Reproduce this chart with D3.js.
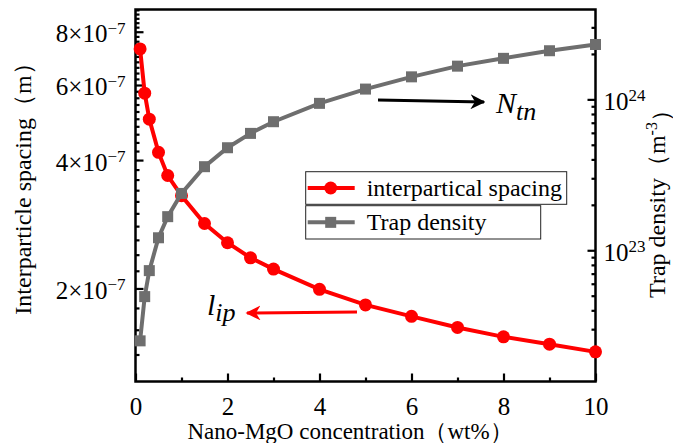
<!DOCTYPE html>
<html>
<head>
<meta charset="utf-8">
<script src="https://cdn.jsdelivr.net/npm/d3@7"></script>
<style>
  body { margin: 0; background: #fff; }
</style>
</head>
<body>
<div id="chart"></div>
<script>
// nano-MgO loading (wt%)
const conc = [0.1, 0.2, 0.3, 0.5, 0.7, 1, 1.5, 2, 2.5, 3, 4, 5, 6, 7, 8, 9, 10];
// interparticle spacing (m), left log axis
const spacing = [7.29e-7, 5.74e-7, 4.99e-7, 4.17e-7, 3.68e-7, 3.30e-7, 2.84e-7, 2.56e-7, 2.36e-7,
  2.22e-7, 1.99e-7, 1.83e-7, 1.72e-7, 1.62e-7, 1.54e-7, 1.48e-7, 1.42e-7];
// trap density (m^-3), right log axis
const trapDensity = [2.51e22, 4.93e22, 7.33e22, 1.21e23, 1.67e23, 2.38e23, 3.58e23, 4.78e23, 5.95e23,
  7.11e23, 9.41e23, 1.17e24, 1.41e24, 1.66e24, 1.87e24, 2.10e24, 2.31e24];

const xTicks = [0, 2, 4, 6, 8, 10];
const xMinor = [1, 3, 5, 7, 9];
const leftTicks = [2e-7, 4e-7, 6e-7, 8e-7];
const leftLabels = ["2", "4", "6", "8"];
const rightTicks = [1e23, 1e24];
const rightLabels = ["23", "24"];

const FONT = "Liberation Serif";

// warm up the serif face before any text is drawn
const ctx = document.createElement("canvas").getContext("2d");
[24, 25, 30].forEach(s => {
  ctx.font = `${s}px "${FONT}"`;
  ctx.measureText("Trap density 0123456789");
  ctx.font = `italic ${s}px "${FONT}"`;
  ctx.measureText("Ntn lip");
  document.fonts.check(`${s}px "${FONT}"`);
});

const width = 673, height = 443;
const m = { left: 135.5, right: 595.5, top: 9.5, bottom: 381.5 };

const svg = d3.select("#chart").append("svg").attr("width", width).attr("height", height);

const x = d3.scaleLinear().domain([0, 10]).range([m.left, m.right]);
const yL = d3.scaleLog().domain([1.21e-7, 9.02e-7]).range([m.bottom, m.top]);
const yR = d3.scaleLog().domain([1.35e22, 3.94e24]).range([m.bottom, m.top]);

// minor ticks
const leftMinor = d3.range(14, 91, 2).map(v => v * 1e-8)
  .filter(v => !leftTicks.some(t => Math.abs(t - v) < 1e-9));
const rightMinor = [];
[1e22, 1e23, 1e24].forEach(p => d3.range(2, 10).forEach(k => {
  const v = k * p;
  if (v >= 1.35e22 && v <= 3.94e24) rightMinor.push(v);
}));

function txt(sel, size) {
  return sel.append("text").attr("font-family", FONT).attr("font-size", size).attr("fill", "#000");
}

// bottom axis
const gx = svg.append("g").attr("transform", `translate(0,${m.bottom})`)
  .call(d3.axisBottom(x).tickValues(xTicks).tickSize(-8).tickFormat(""));
svg.append("g").attr("transform", `translate(0,${m.bottom})`)
  .call(d3.axisBottom(x).tickValues(xMinor).tickSize(-4).tickFormat(""));

// left axis
const gl = svg.append("g").attr("transform", `translate(${m.left},0)`)
  .call(d3.axisLeft(yL).tickValues(leftTicks).tickSize(-8).tickFormat(""));
svg.append("g").attr("transform", `translate(${m.left},0)`)
  .call(d3.axisLeft(yL).tickValues(leftMinor).tickSize(-4).tickFormat(""));

// right axis
const gr = svg.append("g").attr("transform", `translate(${m.right},0)`)
  .call(d3.axisRight(yR).tickValues(rightTicks).tickSize(-8).tickFormat(""));
svg.append("g").attr("transform", `translate(${m.right},0)`)
  .call(d3.axisRight(yR).tickValues(rightMinor).tickSize(-4).tickFormat(""));

svg.selectAll("g").attr("font-family", FONT);
svg.selectAll(".domain").remove();
svg.selectAll(".tick text").remove();
svg.selectAll(".tick line").attr("stroke", "#000").attr("stroke-width", 2.2);

gx.selectAll(".tick").each(function(d) {
  txt(d3.select(this), 25).attr("y", 33).attr("text-anchor", "middle").text(d);
});

gl.selectAll(".tick").each(function(d, i) {
  const t = txt(d3.select(this), 25).attr("x", -10).attr("dy", "0.4em").attr("text-anchor", "end");
  t.append("tspan").text(leftLabels[i] + "×10");
  t.append("tspan").attr("dy", "-0.5em").attr("font-size", 17).text("−7");
});

gr.selectAll(".tick").each(function(d, i) {
  const t = txt(d3.select(this), 25).attr("x", 8).attr("dy", "0.4em").attr("text-anchor", "start");
  t.append("tspan").text("10");
  t.append("tspan").attr("dy", "-0.5em").attr("font-size", 17).text(rightLabels[i]);
});

// frame
svg.append("rect").attr("x", m.left).attr("y", m.top)
  .attr("width", m.right - m.left).attr("height", m.bottom - m.top)
  .attr("fill", "none").attr("stroke", "#000").attr("stroke-width", 2.5);

// series
const red = "#ff0000", grey = "#6e6e6e";

svg.append("path").datum(conc.map((c, i) => [c, spacing[i]]))
  .attr("fill", "none").attr("stroke", red).attr("stroke-width", 4)
  .attr("d", d3.line().x(d => x(d[0])).y(d => yL(d[1])));
svg.append("g").selectAll("circle").data(conc.map((c, i) => [c, spacing[i]])).join("circle")
  .attr("cx", d => x(d[0])).attr("cy", d => yL(d[1])).attr("r", 6.5).attr("fill", red);

svg.append("path").datum(conc.map((c, i) => [c, trapDensity[i]]))
  .attr("fill", "none").attr("stroke", grey).attr("stroke-width", 4)
  .attr("d", d3.line().x(d => x(d[0])).y(d => yR(d[1])));
svg.append("g").selectAll("rect").data(conc.map((c, i) => [c, trapDensity[i]])).join("rect")
  .attr("x", d => x(d[0]) - 5.5).attr("y", d => yR(d[1]) - 5.5)
  .attr("width", 11).attr("height", 11).attr("fill", grey);

// axis titles
txt(svg, 23).attr("x", 350).attr("y", 439).attr("text-anchor", "middle")
  .text("Nano-MgO concentration（wt%）");
txt(svg, 24).attr("transform", "translate(31,183) rotate(-90)").attr("text-anchor", "middle")
  .text("Interparticle spacing（m）");
const rt = txt(svg, 24).attr("transform", "translate(665,198) rotate(-90)").attr("text-anchor", "middle");
rt.append("tspan").text("Trap density（m");
rt.append("tspan").attr("dy", "-0.5em").attr("font-size", 16).text("-3");
rt.append("tspan").attr("dy", "0.5em").text("）");

// legend
const legend = [
  { label: "interpartical spacing", color: red, shape: "circle", box: [305.7, 171.7, 566.7, 204.3] },
  { label: "Trap density", color: grey, shape: "square", box: [305.7, 205.7, 540.7, 239] }
];
legend.forEach(l => {
  const [x0, y0, x1, y1] = l.box, cy = (y0 + y1) / 2;
  svg.append("rect").attr("x", x0).attr("y", y0).attr("width", x1 - x0).attr("height", y1 - y0)
    .attr("fill", "#fff").attr("stroke", "#222").attr("stroke-width", 1);
  svg.append("line").attr("x1", x0 + 2).attr("x2", x0 + 49).attr("y1", cy).attr("y2", cy)
    .attr("stroke", l.color).attr("stroke-width", 4);
  if (l.shape === "circle") {
    svg.append("circle").attr("cx", x0 + 25).attr("cy", cy).attr("r", 6.5).attr("fill", l.color);
  } else {
    svg.append("rect").attr("x", x0 + 19.5).attr("y", cy - 5.5).attr("width", 11).attr("height", 11).attr("fill", l.color);
  }
  txt(svg, 24).attr("x", x0 + 61).attr("y", cy + 8).text(l.label);
});

// annotations
const defs = svg.append("defs");
[["arrowBlack", "#000"], ["arrowRed", red]].forEach(([id, c]) => {
  defs.append("marker").attr("id", id).attr("viewBox", "0 0 10 10").attr("refX", 9).attr("refY", 5)
    .attr("markerWidth", 5).attr("markerHeight", 5).attr("orient", "auto")
    .append("path").attr("d", "M0,0 L10,5 L0,10 L3,5 Z").attr("fill", c);
});
svg.append("line").attr("x1", 378).attr("y1", 100).attr("x2", 484).attr("y2", 102)
  .attr("stroke", "#000").attr("stroke-width", 3).attr("marker-end", "url(#arrowBlack)");
svg.append("line").attr("x1", 357).attr("y1", 312).attr("x2", 247).attr("y2", 313)
  .attr("stroke", red).attr("stroke-width", 3).attr("marker-end", "url(#arrowRed)");

const nt = txt(svg, 30).attr("x", 496).attr("y", 113).attr("font-style", "italic");
nt.append("tspan").text("N");
nt.append("tspan").attr("dy", 7).attr("font-size", 26).text("tn");

const lt = txt(svg, 30).attr("x", 207).attr("y", 315).attr("font-style", "italic");
lt.append("tspan").text("l");
lt.append("tspan").attr("dy", 6).attr("font-size", 26).text("ip");

// re-apply the face once fonts report ready (harmless if already applied)
document.fonts.ready.then(() => svg.selectAll("text").attr("font-family", FONT));
</script>
</body>
</html>
